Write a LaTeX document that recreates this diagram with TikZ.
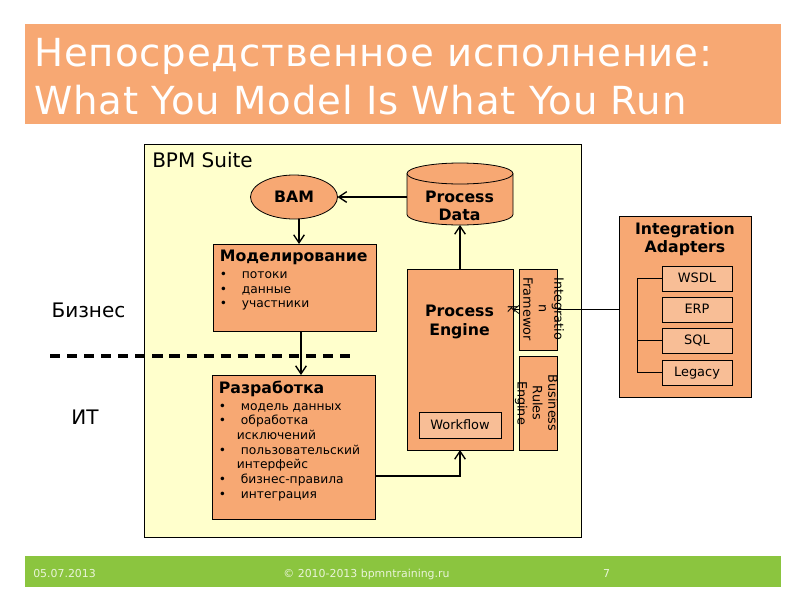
\documentclass[tikz,border=0pt]{standalone}
\usepackage{fontspec}
\usetikzlibrary{arrows.meta,shapes.geometric}
\setmainfont{DejaVu Sans}
\newfontfamily\titlefont[LetterSpace=2.3]{DejaVu Sans}
\definecolor{orangebox}{HTML}{F7A873}
\definecolor{lightbox}{HTML}{F8BE96}
\definecolor{suite}{HTML}{FFFFCC}
\definecolor{footer}{HTML}{8BC53F}
\definecolor{foottext}{HTML}{E9F4D8}
\newcommand{\bul}[1]{\makebox[16.5pt][l]{•}#1}
\newcommand{\cont}[1]{\hspace*{13.5pt}#1}
\tikzset{
  wh/.style 2 args={minimum width=#1*0.75pt,minimum height=#2*0.75pt,inner sep=0pt,outer sep=0pt},
  panel/.style={draw=black,line width=0.6pt,fill=orangebox},
  inner panel/.style={draw=black,line width=0.6pt,fill=lightbox,font=\fontsize{9.7}{11}\selectfont,text height=7.5pt,text depth=1.5pt},
  big arrow/.style={line width=1.7pt,-{Straight Barb[length=6pt,width=8pt,line width=1.0pt]}},
  thin link/.style={line width=0.6pt},
  heading/.style={font=\fontsize{11.8}{13.6}\selectfont\bfseries,align=center},
  plain label/.style={font=\fontsize{15}{17}\selectfont,inner sep=0pt},
  foot label/.style={text=foottext,font=\fontsize{8.2}{9}\selectfont,inner sep=0pt,anchor=base},
  side text/.style={rotate=-90,font=\fontsize{9.6}{11.6}\selectfont,align=center,inner sep=0pt},
  title line/.style={anchor=base west,inner sep=0pt,text=white,font=\fontsize{29}{34}\selectfont\titlefont},
}
\begin{document}
\begin{tikzpicture}[x=0.75pt,y=-0.75pt]
\useasboundingbox (0,0) rectangle (800,600);
\fill[white] (0,0) rectangle (800,600);
% title and footer bands
\node[wh={756}{100},fill=orangebox] (titleband) at (403,74) {};
\node[title line] (title1) at (34,66.5) {Непосредственное исполнение:};
\node[title line] (title2) at (34,114) {What You Model Is What You Run};
\node[wh={756}{31},fill=footer] (footband) at (403,571.5) {};
\node[foot label,anchor=base west] (date) at (33,577) {05.07.2013};
\node[foot label] (copy) at (366.5,577) {© 2010-2013 bpmntraining.ru};
\node[foot label] (pageno) at (606.5,577) {7};
% suite
\node[wh={437}{393},draw=black,line width=0.6pt,fill=suite] (suitebox) at (362.5,340.5) {};
\node[anchor=base west,inner sep=0pt,font=\fontsize{15}{17}\selectfont] (suitelabel) at (152,167) {BPM Suite};
% business / IT divider
\coordinate (dashL) at (50,356);
\coordinate (dashR) at (350,356);
\draw[line width=2.6pt,dash pattern=on 7.6pt off 5.2pt] (dashL) -- (dashR);
\node[plain label] (biz) at (88.5,310) {Бизнес};
\node[plain label] (it) at (85,417) {ИТ};
% nodes
\node[ellipse,wh={87}{44},panel,heading] (bam) at (294,197) {BAM};
\node[wh={106}{62}] (pdata) at (460,194) {};
\draw[panel] (407,173.5) arc[start angle=180,end angle=360,x radius=53,y radius=10.5]
  -- (513,214.5) arc[start angle=0,end angle=180,x radius=53,y radius=10.5] -- cycle;
\draw[draw=black,line width=0.6pt] (407,173.5) arc[start angle=180,end angle=0,x radius=53,y radius=10.5];
\node[heading,inner sep=0pt] (pdatatext) at (459.5,206) {Process\\Data};
\node[wh={163}{87},panel,align=left,anchor=north west] (model) at (213,244) {\parbox[t][65.25pt][t]{122.25pt}{\vspace{4.8pt}\hspace*{5.2pt}{\fontsize{11.8}{13.6}\selectfont\bfseries Моделирование}\par\vspace{1.2pt}\leftskip=5.2pt\fontsize{9.2}{11.1}\selectfont
\bul{потоки}\par\bul{данные}\par\bul{участники}}};
\node[wh={163}{144},panel,align=left,anchor=north west] (dev) at (212,375) {\parbox[t][108pt][t]{122.25pt}{\vspace{4.8pt}\hspace*{5.2pt}{\fontsize{11.8}{13.6}\selectfont\bfseries Разработка}\par\vspace{1.2pt}\leftskip=5.2pt\fontsize{9.2}{11}\selectfont
\bul{модель данных}\par\bul{обработка}\par\cont{исключений}\par\bul{пользовательский}\par\cont{интерфейс}\par\bul{бизнес-правила}\par\bul{интеграция}}};
\node[wh={106}{181},panel] (engine) at (460,359.5) {};
\node[heading,inner sep=0pt] (enginetext) at (459.5,322) {Process\\Engine};
\node[wh={82}{26},inner panel] (workflow) at (460,425) {Workflow};
% adapters
\node[wh={132}{181},panel] (adapters) at (685,306.5) {};
\node[heading,inner sep=0pt] (adapterstext) at (685,239) {Integration\\Adapters};
\node[wh={70}{25},inner panel] (wsdl) at (697,278.5) {WSDL};
\node[wh={70}{25},inner panel] (erp) at (697,309.5) {ERP};
\node[wh={70}{25},inner panel] (sql) at (697,340.5) {SQL};
\node[wh={70}{25},inner panel] (legacy) at (697,372.5) {Legacy};
\coordinate (trunk) at (637,309.5);
\draw[thin link] (wsdl.west) -- (trunk |- wsdl.west) -- (trunk |- legacy.west) -- (legacy.west);
\draw[thin link] (sql.west) -- (trunk |- sql.west);
% link from adapters to engine, running behind the framework box
\draw[thin link,-{Straight Barb[length=4pt,width=6pt,line width=0.6pt]}] (adapters.west |- trunk) -- (engine.east |- trunk);
% framework and rules
\node[wh={38}{81},panel] (framework) at (538,309.5) {};
\node[side text] (frameworktext) at (536,309) {Integratio\\n\\Framewor\\k};
\node[wh={38}{94},panel] (rules) at (538,403) {};
\node[side text] (rulestext) at (536.5,403) {Business\\Rules\\Engine};
% connectors
\draw[big arrow] (pdata.west |- bam.east) -- (bam.east);
\draw[big arrow] (299,219) -- (299,244);
\draw[big arrow] (301,331) -- (301,375);
\draw[big arrow] (engine.north) -- (pdata.south);
\draw[big arrow] (dev.east |- 0,476) -- (engine.south |- 0,476) -- (engine.south);
\end{tikzpicture}
\end{document}
